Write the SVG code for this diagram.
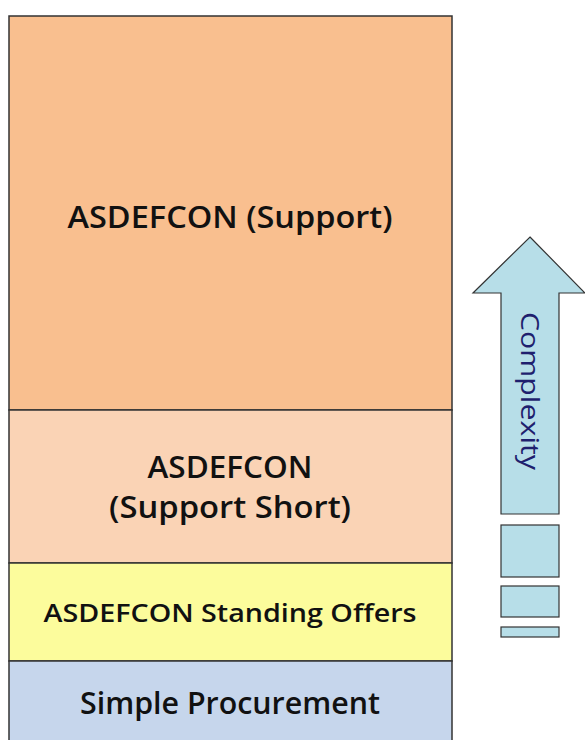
<svg xmlns="http://www.w3.org/2000/svg" width="585" height="740" viewBox="0 0 585 740">
<style>
.blk{stroke:#333;stroke-width:1.5}
.lbl{font-family:"Open Sans","DejaVu Sans",sans-serif;font-weight:600;fill:#111;text-anchor:middle}
.arr{fill:#B7DEE8;stroke:#333;stroke-width:1.2}
</style>
<rect width="585" height="740" fill="#fff"/>
<g id="support">
<rect class="blk" x="9" y="16" width="443" height="394" fill="#F9BF8F"/>
<text class="lbl" x="230" y="228" font-size="30" textLength="325" lengthAdjust="spacingAndGlyphs">ASDEFCON (Support)</text>
</g>
<g id="support-short">
<rect class="blk" x="9" y="410" width="443" height="153" fill="#FAD3B5"/>
<text class="lbl" x="230" y="478" font-size="30" textLength="165" lengthAdjust="spacingAndGlyphs">ASDEFCON</text>
<text class="lbl" x="230" y="518" font-size="30" textLength="242" lengthAdjust="spacingAndGlyphs">(Support Short)</text>
</g>
<g id="standing-offers">
<rect class="blk" x="9" y="563" width="443" height="98" fill="#FCFC9C"/>
<text class="lbl" x="230" y="622" font-size="26" textLength="373" lengthAdjust="spacingAndGlyphs">ASDEFCON Standing Offers</text>
</g>
<g id="simple">
<rect class="blk" x="9" y="661" width="443" height="90" fill="#C6D6EC"/>
<text class="lbl" x="230" y="714" font-size="30" textLength="300" lengthAdjust="spacingAndGlyphs">Simple Procurement</text>
</g>
<g id="complexity">
<polygon class="arr" points="530,237 585,293 559,293 559,514 501,514 501,293 473,293"/>
<text x="531" y="391" font-family="Open Sans,DejaVu Sans,sans-serif" font-size="26" fill="#1F1F6E" text-anchor="middle" dominant-baseline="central" transform="rotate(90 531 391)" textLength="158" lengthAdjust="spacingAndGlyphs">Complexity</text>
<rect class="arr" x="501" y="525" width="58" height="52"/>
<rect class="arr" x="501" y="586" width="58" height="31"/>
<rect class="arr" x="501" y="627" width="58" height="10"/>
</g>
</svg>
